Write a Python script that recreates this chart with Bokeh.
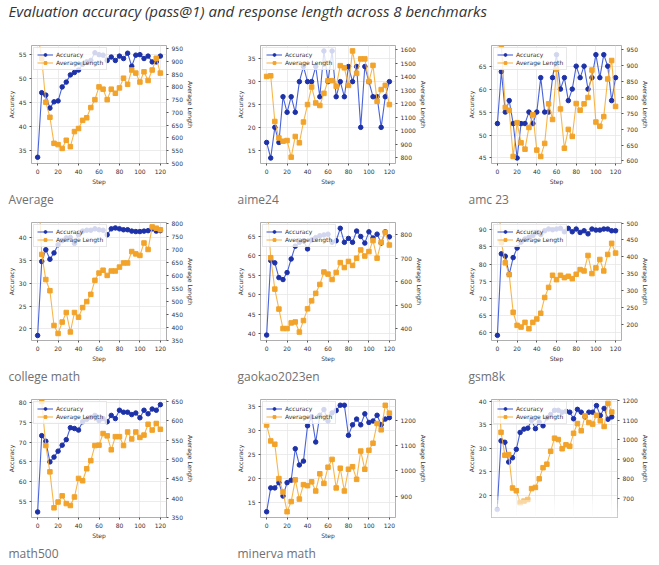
from bokeh.plotting import figure
from bokeh.layouts import column, row
from bokeh.models import (Range1d, LinearAxis, SingleIntervalTicker, Legend,
                          LegendItem, Label, Title, BoxAnnotation)
from bokeh.embed import file_html
from bokeh.resources import INLINE

# ---------------- data ----------------
title_text = "Evaluation accuracy (pass@1) and response length across 8 benchmarks"

steps = [0, 4, 8, 12, 16, 20, 24, 28, 32, 36, 40, 44, 48, 52, 56, 60,
         64, 68, 72, 76, 80, 84, 88, 92, 96, 100, 104, 108, 112, 116, 120]

captions = ["Average", "aime24", "amc 23", "college math", "gaokao2023en",
            "gsm8k", "math500", "minerva math", ""]

avg_acc = [33.7, 47.1, 46.6, 43.9, 45.2, 45.4, 48.3, 49.3, 50.8, 51.3, 51.8, 53.0, 53.5, 53.8, 55.4, 55.0,
           54.9, 53.8, 54.5, 53.8, 54.7, 54.2, 55.3, 52.6, 54.9, 55.0, 54.2, 54.7, 53.5, 53.5, 54.7]
avg_len = [1010, 912, 740, 681, 579, 574, 559, 591, 566, 625, 637, 669, 679, 719, 750, 800,
           791, 750, 791, 775, 796, 834, 810, 866, 854, 819, 859, 825, 866, 912, 854]

aime_acc = [16.7, 13.3, 20.0, 16.7, 26.7, 23.3, 26.7, 23.3, 30.0, 33.3, 30.0, 30.0, 33.3, 26.7, 36.7, 30.0,
            36.7, 26.7, 30.0, 26.7, 33.3, 30.0, 33.3, 20.0, 33.3, 30.0, 26.7, 26.7, 20.0, 26.7, 30.0]
aime_len = [1402, 1407, 1069, 947, 923, 928, 805, 958, 911, 1065, 1194, 1324, 1206, 1187, 1277, 1371,
            1371, 1329, 1482, 1466, 1336, 1591, 1425, 1532, 1532, 1364, 1484, 1218, 1305, 1336, 1194]

amc_acc = [52.5, 63.8, 55.0, 57.5, 52.5, 45.0, 52.5, 52.5, 55.0, 52.5, 55.0, 62.5, 55.0, 55.0, 62.5, 67.5,
           60.0, 62.5, 57.5, 60.0, 65.0, 62.5, 65.0, 60.0, 62.5, 67.5, 62.5, 67.5, 65.0, 57.5, 62.5]
amc_len = [1050, 962, 768, 759, 614, 720, 657, 637, 705, 745, 634, 614, 655, 779, 730, 887,
           763, 640, 699, 677, 780, 759, 779, 799, 885, 722, 709, 739, 857, 915, 771]

college_acc = [18.5, 34.8, 37.4, 35.3, 36.7, 38.5, 39.4, 40.0, 40.1, 38.8, 40.7, 41.5, 41.7, 41.7, 42.0, 41.8,
               41.7, 40.7, 42.0, 42.2, 42.0, 41.8, 41.8, 41.5, 41.4, 41.4, 41.5, 41.6, 42.0, 41.5, 41.6]
college_len = [1000, 681, 584, 541, 407, 376, 420, 457, 382, 457, 439, 476, 499, 527, 581, 609,
               620, 600, 617, 617, 632, 648, 648, 692, 683, 677, 725, 700, 787, 782, 776]

gaokao_acc = [39.6, 58.8, 58.2, 54.4, 53.9, 55.7, 59.2, 62.5, 63.5, 63.9, 61.8, 64.1, 64.7, 65.2, 65.4, 65.6,
              63.5, 63.9, 67.1, 63.5, 64.5, 63.5, 66.4, 65.0, 63.3, 66.2, 64.6, 65.6, 63.3, 66.2, 64.9]
gaokao_len = [960, 702, 568, 483, 400, 400, 424, 428, 385, 434, 484, 518, 550, 588, 641, 632,
              609, 639, 681, 660, 686, 669, 700, 735, 709, 728, 775, 700, 768, 810, 756]

gsm_acc = [59.3, 83.0, 82.3, 77.0, 81.9, 84.7, 86.4, 87.3, 87.8, 88.3, 89.2, 88.6, 89.7, 90.2, 90.0, 90.2,
           90.4, 89.4, 90.4, 89.4, 90.2, 89.2, 89.7, 88.8, 90.2, 89.9, 89.9, 90.2, 90.2, 89.7, 89.7]
gsm_len = [620, 443, 382, 347, 235, 196, 191, 205, 186, 205, 215, 232, 279, 309, 345, 332,
           345, 338, 342, 335, 348, 362, 358, 404, 350, 367, 392, 358, 407, 440, 411]

math_acc = [52.4, 71.6, 70.2, 65.0, 66.2, 67.7, 69.2, 70.6, 73.6, 73.4, 73.0, 75.1, 75.7, 76.2, 76.7, 75.4,
            75.9, 75.1, 76.7, 75.9, 78.0, 77.5, 77.5, 76.9, 77.3, 76.1, 78.0, 77.1, 78.3, 78.0, 79.4]
math_len = [720, 650, 536, 468, 375, 390, 406, 386, 381, 403, 451, 445, 476, 497, 536, 537,
            567, 561, 525, 559, 559, 536, 571, 553, 571, 557, 563, 591, 576, 593, 578]

minerva_acc = [13.0, 18.0, 18.0, 19.1, 16.3, 19.1, 19.6, 26.2, 22.8, 23.6, 31.0, 32.9, 27.6, 33.2, 34.4, 32.0,
               33.7, 34.2, 35.3, 35.3, 29.0, 31.2, 32.4, 31.2, 33.5, 31.7, 32.0, 33.2, 31.2, 32.4, 32.7]
minerva_len = [1181, 1118, 1105, 969, 916, 838, 878, 964, 888, 945, 941, 956, 920, 988, 950, 1014,
               1045, 932, 1010, 920, 1006, 1016, 966, 1078, 1006, 1081, 1109, 1187, 1162, 1259, 1228]

last_acc = [17.0, 31.6, 31.3, 27.1, 28.0, 29.8, 33.4, 34.1, 34.3, 36.0, 34.2, 35.6, 34.8, 36.5, 37.2, 38.1,
            38.1, 37.7, 37.9, 37.7, 36.3, 38.3, 37.7, 36.7, 37.7, 37.7, 39.1, 37.0, 38.5, 36.2, 36.7]
last_len = [1400, 1037, 920, 923, 752, 738, 677, 685, 693, 749, 755, 799, 856, 874, 940, 1007,
            1000, 953, 973, 966, 1032, 1082, 1045, 1121, 1087, 1079, 1124, 1096, 1067, 1185, 1141]

acc_series = [avg_acc, aime_acc, amc_acc, college_acc, gaokao_acc, gsm_acc, math_acc, minerva_acc, last_acc]
len_series = [avg_len, aime_len, amc_len, college_len, gaokao_len, gsm_len, math_len, minerva_len, last_len]

# axis limits and tick intervals (left accuracy / right length)
acc_limits = [(32.4, 56.9), (12.1, 37.9), (43.8, 69.5), (17.4, 43.4), (38.2, 68.6),
              (57.8, 92.1), (51.0, 80.7), (11.8, 36.5), (15.3, 40.4)]
len_limits = [(500, 962), (758, 1631), (592, 962), (349, 804), (349, 852),
              (151, 502), (350, 655), (815, 1282), (601, 1205)]
acc_step = [5, 5, 5, 5, 5, 5, 5, 5, 5]
len_step = [50, 100, 50, 50, 100, 50, 50, 100, 100]

# ---------------- style ----------------
BLUE_LINE = "#3552d4"
BLUE_DOT = "#1d31a8"
ORANGE_LINE = "#f6ae38"
ORANGE_DOT = "#f2a32a"
TXT = "#333333"
FONT = "DejaVu Sans"
SMALL = "6px"

col_widths = [229, 231, 187]
LEFT_B = 22
right_borders = [67, 69, 25]
PANEL_H = 177


def style_axis(ax, label):
    ax.axis_label = label
    ax.axis_label_text_font = FONT
    ax.axis_label_text_font_size = SMALL
    ax.axis_label_text_font_style = "normal"
    ax.axis_label_text_color = TXT
    ax.axis_label_standoff = 1
    ax.major_label_text_font = FONT
    ax.major_label_text_font_size = SMALL
    ax.major_label_text_color = TXT
    ax.major_label_standoff = 1
    ax.axis_line_color = None
    ax.major_tick_line_color = "#555555"
    ax.major_tick_out = 2
    ax.major_tick_in = 0
    ax.minor_tick_line_color = None


def make_panel(i):
    w = col_widths[i % 3]
    rb = right_borders[i % 3]
    alo, ahi = acc_limits[i]
    llo, lhi = len_limits[i]
    p = figure(width=w, height=PANEL_H, x_range=Range1d(-6, 126),
               y_range=Range1d(alo, ahi), output_backend="svg",
               toolbar_location=None, min_border_left=LEFT_B,
               min_border_right=rb, min_border_top=13,
               min_border_bottom=44, outline_line_color="#9a9a9a",
               outline_line_width=0.8, background_fill_color="white",
               border_fill_color="white")
    p.extra_y_ranges = {"len": Range1d(llo, lhi)}
    p.xaxis.ticker = SingleIntervalTicker(interval=20)
    p.yaxis.ticker = SingleIntervalTicker(interval=acc_step[i])
    style_axis(p.xaxis[0], "Step")
    style_axis(p.yaxis[0], "Accuracy")
    rax = LinearAxis(y_range_name="len", ticker=SingleIntervalTicker(interval=len_step[i]))
    style_axis(rax, "Average Length")
    p.add_layout(rax, "right")

    p.xgrid.grid_line_color = "#e4e4e4"
    p.ygrid.grid_line_color = "#e4e4e4"
    p.xgrid.grid_line_width = 0.7
    p.ygrid.grid_line_width = 0.7
    p.xgrid.level = "image"
    p.ygrid.level = "image"

    # grid lowest, then accuracy, then the legend box, then the length series on top
    a_line = p.line(steps, acc_series[i], line_color=BLUE_LINE, line_width=1.1,
                    line_alpha=0.9, level="underlay")
    a_pts = p.scatter(steps, acc_series[i], marker="circle", size=4.5,
                      fill_color=BLUE_DOT, line_color=BLUE_DOT, level="underlay")
    l_line = p.line(steps, len_series[i], y_range_name="len", line_color=ORANGE_LINE,
                    line_width=1.1, line_alpha=0.9)
    l_pts = p.scatter(steps, len_series[i], y_range_name="len", marker="square", size=4.5,
                      fill_color=ORANGE_DOT, line_color=ORANGE_DOT)

    legend = Legend(items=[LegendItem(label="Accuracy", renderers=[a_line, a_pts]),
                           LegendItem(label="Average Length", renderers=[l_line, l_pts])],
                    location="top_left", label_text_font=FONT, label_text_font_size=SMALL,
                    label_text_color=TXT, glyph_width=16, glyph_height=7, label_height=7,
                    label_standoff=3, padding=3, spacing=1, margin=2,
                    border_line_color="#d0d0d0", border_line_width=0.8,
                    background_fill_color="white", background_fill_alpha=0.8,
                    level="underlay")
    p.add_layout(legend)

    if captions[i]:
        p.add_layout(Title(text=captions[i], align="left", offset=-23,
                           text_font="Open Sans", text_font_size="12px",
                           text_font_style="normal", text_color="#707070",
                           standoff=3), "below")
    else:
        p.xaxis.visible = False
        # faded bottom of the last (cropped) panel
        for top in [19.8, 19.0, 18.2, 17.4, 16.6, 15.8]:
            p.add_layout(BoxAnnotation(top=top, fill_color="white", fill_alpha=0.35,
                                       line_alpha=0))
    return p


# title strip
t = figure(width=647, height=32, x_range=Range1d(0, 1), y_range=Range1d(0, 1),
           output_backend="svg", toolbar_location=None, min_border=0,
           x_axis_location=None, y_axis_location=None, outline_line_color=None)
t.xgrid.visible = False
t.ygrid.visible = False
t.add_layout(Label(x=0, y=0.66, x_offset=4, text=title_text, text_baseline="middle",
                   text_font="Open Sans", text_font_size="15px",
                   text_font_style="italic", text_color="#333333"))

panels = [make_panel(i) for i in range(9)]
layout = column(t, row(*panels[0:3]), row(*panels[3:6]), row(*panels[6:9]),
                margin=(0, 0, 0, 4))

open("out.html", "w").write(file_html(layout, INLINE))
